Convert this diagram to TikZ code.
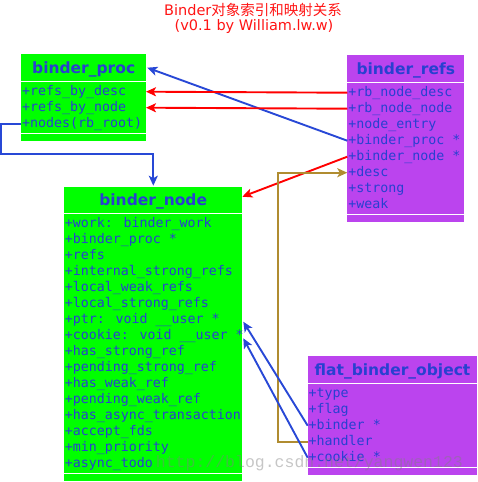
\documentclass[tikz,border=0pt]{standalone}
\usepackage{fontspec}
\setmainfont{DejaVu Sans}
\newfontfamily\monof{DejaVu Sans Mono}
\newfontfamily\cjkf{Noto Sans CJK SC}
\newfontfamily\wmf{Liberation Mono}
\usetikzlibrary{arrows.meta,calc}
\definecolor{boxgreen}{RGB}{0,255,0}
\definecolor{boxpurple}{RGB}{187,68,238}
\definecolor{txtblue}{RGB}{40,64,208}
\definecolor{lineblue}{RGB}{40,72,214}
\definecolor{linered}{RGB}{255,0,0}
\definecolor{linegold}{RGB}{176,140,48}
\definecolor{titlered}{RGB}{255,20,20}
\tikzset{
  boxshape/.style={rectangle, inner sep=0pt, outer sep=0pt, anchor=north west, draw=none},
  sepline/.style={white, line width=1pt},
  headtxt/.style={inner sep=0pt, anchor=base, text=txtblue, font=\fontsize{15.5}{18}\selectfont\bfseries},
  itemtxt/.style={inner sep=0pt, anchor=base west, text=txtblue, font=\monof\fontsize{13.3}{16}\selectfont},
  conn/.style={line width=1.9pt, -{Stealth[length=10pt,width=9pt,inset=2.5pt]}},
  bluearrow/.style={conn, lineblue},
  redarrow/.style={conn, linered},
  goldarrow/.style={conn, linegold},
  titletxt/.style={inner sep=0pt, text=titlered, font=\fontsize{14.5}{17}\selectfont},
  wmtxt/.style={inner sep=0pt, anchor=base west, text=black!50, text opacity=0.45, font=\wmf\fontsize{16.5}{18}\selectfont}
}
\begin{document}
\begin{tikzpicture}[x=1pt,y=-1pt]
\useasboundingbox (0,0) rectangle (478,482);
% title
\node[titletxt] (title1) at (253,9.7) {Binder{\cjkf 对象索引和映射关系}};
\node[titletxt] (title2) at (254,26.7) {(v0.1 by William.lw.w)};

% boxes
\node[boxshape, fill=boxgreen, minimum width=124.7pt, minimum height=86.7pt] (pbox) at (21.3,54) {};
\node[boxshape, fill=boxpurple, minimum width=117pt, minimum height=166.7pt] (rbox) at (347.3,55) {};
\node[boxshape, fill=boxgreen, minimum width=178.3pt, minimum height=294.6pt] (nbox) at (64,186.7) {};
\node[boxshape, fill=boxpurple, minimum width=169.6pt, minimum height=118.7pt] (fbox) at (307.7,356) {};

\draw[sepline] (pbox.west |- 0,81) -- (pbox.east |- 0,81);
\draw[sepline] (pbox.west |- 0,133.3) -- (pbox.east |- 0,133.3);
\draw[sepline] (rbox.west |- 0,82.7) -- (rbox.east |- 0,82.7);
\draw[sepline] (rbox.west |- 0,214.3) -- (rbox.east |- 0,214.3);
\draw[sepline] (nbox.west |- 0,213.3) -- (nbox.east |- 0,213.3);
\draw[sepline] (nbox.west |- 0,473.3) -- (nbox.east |- 0,473.3);
\draw[sepline] (fbox.west |- 0,383.3) -- (fbox.east |- 0,383.3);
\draw[sepline] (fbox.west |- 0,467.3) -- (fbox.east |- 0,467.3);

% headers
\node[headtxt] (ph) at (83.7,73.3) {binder\_proc};
\node[headtxt] (rh) at (405.8,74.3) {binder\_refs};
\node[headtxt] (nh) at (153.2,205.7) {binder\_node};
\node[headtxt] (fh) at (392.5,375) {flat\_binder\_object};
\coordinate (phc) at (83.7,67.7);
\coordinate (nhc) at (153.2,196.7);

% items
\foreach \t [count=\i] in {{+refs\_by\_desc},{+refs\_by\_node},{+nodes(rb\_root)}}{
  \coordinate (p\i) at (83.7,{91.7+16*(\i-1)});
  \node[itemtxt] (pt\i) at (21.9,{95.9+16*(\i-1)}) {\t};
}
\foreach \t [count=\i] in {{+rb\_node\_desc},{+rb\_node\_node},{+node\_entry},{+binder\_proc *},{+binder\_node *},{+desc},{+strong},{+weak}}{
  \coordinate (r\i) at (405.8,{92.7+16*(\i-1)});
  \node[itemtxt] (rt\i) at (348.1,{96.9+16*(\i-1)}) {\t};
}
\foreach \t [count=\i] in {{+work: binder\_work},{+binder\_proc *},{+refs},{+internal\_strong\_refs},{+local\_weak\_refs},{+local\_strong\_refs},{+ptr: void \_\_user *},{+cookie: void \_\_user *},{+has\_strong\_ref},{+pending\_strong\_ref},{+has\_weak\_ref},{+pending\_weak\_ref},{+has\_async\_transaction},{+accept\_fds},{+min\_priority},{+async\_todo}}{
  \coordinate (n\i) at (153.2,{223.3+16*(\i-1)});
  \node[itemtxt] (nt\i) at (64.6,{227.5+16*(\i-1)}) {\t};
}
\foreach \t [count=\i] in {{+type},{+flag},{+binder *},{+handler},{+cookie *}}{
  \coordinate (f\i) at (392.5,{393.7+16*(\i-1)});
  \node[itemtxt] (ft\i) at (308.5,{397.9+16*(\i-1)}) {\t};
}

% connectors
\coordinate (elbowA) at (1.3,154);
\coordinate (elbowB) at (153.3,154);
\coordinate (goldx) at (278.3,300);

\draw[bluearrow] (r4 -| rbox.west) -- ([xshift=1.3pt]phc -| pbox.east);
\draw[redarrow] (r1 -| rbox.west) -- (p1 -| pbox.east);
\draw[redarrow] (r2 -| rbox.west) -- (p2 -| pbox.east);
\draw[redarrow] (r5 -| rbox.west) -- (nhc -| nbox.east);
\draw[bluearrow] (p3 -| pbox.west) -- (p3 -| elbowA) -- (elbowA) -- (elbowB) -- ([yshift=1pt]elbowB |- nbox.north);
\draw[goldarrow] (f4 -| fbox.west) -- (f4 -| goldx) -- (r6 -| goldx) -- (r6 -| rbox.west);
\draw[bluearrow] (f3 -| fbox.west) -- ([yshift=-2.4pt,xshift=1pt]n7 -| nbox.east);
\draw[bluearrow] (f5 -| fbox.west) -- ([yshift=-3pt,xshift=1pt]n8 -| nbox.east);

% watermark
\node[wmtxt] (wm) at (155.7,467.3) {http://blog.csdn.net/yangwen123};
\end{tikzpicture}
\end{document}
